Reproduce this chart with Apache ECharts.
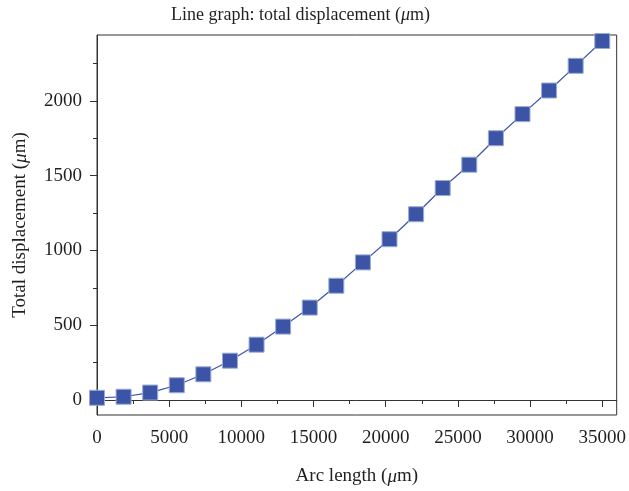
<!DOCTYPE html>
<html>
<head>
<meta charset="utf-8">
<script src="https://cdn.jsdelivr.net/npm/echarts@6/dist/echarts.min.js"></script>
<style>html,body{margin:0;padding:0;background:#fff;}#chart{width:629px;height:491px;}</style>
</head>
<body>
<div id="chart"></div>
<script>
// Data
const arcLength = [0, 1842, 3684, 5526, 7368, 9211, 11053, 12895, 14737, 16579, 18421, 20263, 22105, 23947, 25789, 27632, 29474, 31316, 33158, 35000];
const totalDisplacement = [15, 22, 50, 99, 172, 263, 370, 491, 618, 764, 920, 1075, 1242, 1417, 1573, 1750, 1911, 2069, 2234, 2400];
const xMajorTicks = [0, 5000, 10000, 15000, 20000, 25000, 30000, 35000];
const xMinorTicks = [2500, 7500, 12500, 17500, 22500, 27500, 32500];
const yMajorTicks = [0, 500, 1000, 1500, 2000];
const yMinorTicks = [250, 750, 1250, 1750, 2250];

const FONT = 'Liberation Serif';
const TXT = '#231f20';
const AX = '#333333';

const chart = echarts.init(document.getElementById('chart'), null, {renderer: 'canvas'});
const seriesData = arcLength.map((x, i) => [x, totalDisplacement[i]]);
const plain = v => String(v);

chart.setOption({
  animation: false,
  backgroundColor: '#fff',
  title: {
    text: 'Line graph: total displacement ({i|μ}m)',
    left: 166,
    top: 1,
    textStyle: {fontFamily: FONT, fontWeight: 'normal', fontSize: 18, color: TXT,
      rich: {i: {fontFamily: FONT, fontStyle: 'italic', fontSize: 18, color: TXT}}}
  },
  grid: {left: 97, right: 12, top: 35, bottom: 75, show: true, borderColor: AX, borderWidth: 1, backgroundColor: 'transparent'},
  xAxis: [{
    type: 'value', min: 0, max: 36000,
    name: 'Arc length ({i|μ}m)', nameLocation: 'middle', nameGap: 52,
    nameTextStyle: {fontFamily: FONT, fontSize: 19, color: TXT, rich: {i: {fontFamily: FONT, fontStyle: 'italic', fontSize: 19, color: TXT}}},
    axisLine: {show: true, lineStyle: {color: AX, width: 1}},
    axisTick: {show: true, length: 7, lineStyle: {color: AX}, customValues: xMajorTicks},
    axisLabel: {fontFamily: FONT, fontSize: 19, color: TXT, margin: 14, customValues: xMajorTicks, formatter: plain},
    splitLine: {show: false}
  }, {
    type: 'value', min: 0, max: 36000, position: 'bottom',
    axisLine: {show: false},
    axisTick: {show: true, length: 4, lineStyle: {color: AX}, customValues: xMinorTicks},
    axisLabel: {show: false},
    splitLine: {show: false}
  }],
  yAxis: [{
    type: 'value', min: -100, max: 2440,
    name: 'Total displacement ({i|μ}m)', nameLocation: 'middle', nameGap: 67, nameRotate: 90,
    nameTextStyle: {fontFamily: FONT, fontSize: 19, color: TXT, rich: {i: {fontFamily: FONT, fontStyle: 'italic', fontSize: 19, color: TXT}}},
    axisLine: {show: true, lineStyle: {color: AX, width: 1}},
    axisTick: {show: true, length: 7, lineStyle: {color: AX}, customValues: yMajorTicks},
    axisLabel: {fontFamily: FONT, fontSize: 19, color: TXT, margin: 15, customValues: yMajorTicks, formatter: plain},
    splitLine: {show: false}
  }, {
    type: 'value', min: -100, max: 2440, position: 'left',
    axisLine: {show: false},
    axisTick: {show: true, length: 4, lineStyle: {color: AX}, customValues: yMinorTicks},
    axisLabel: {show: false},
    splitLine: {show: false}
  }],
  series: [{
    type: 'line',
    xAxisIndex: 0, yAxisIndex: 0,
    data: seriesData,
    symbol: 'rect',
    symbolSize: 15,
    clip: false,
    lineStyle: {color: '#3b54a5', width: 1.2},
    itemStyle: {color: '#3b54a5', borderColor: '#9aaad8', borderWidth: 1}
  }]
});
</script>
</body>
</html>
